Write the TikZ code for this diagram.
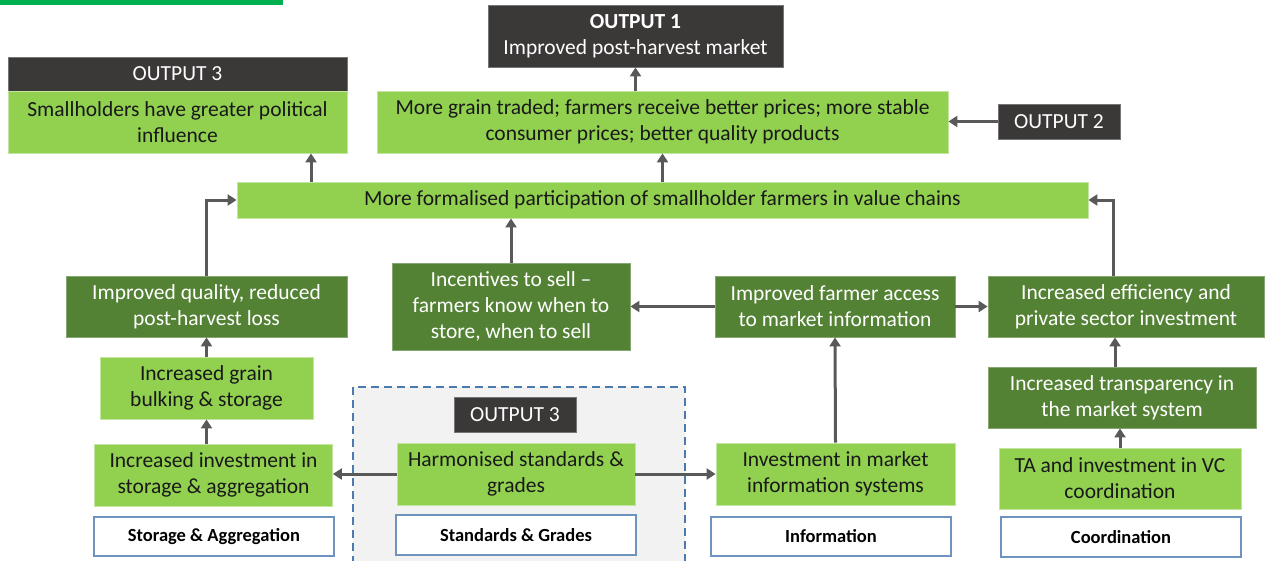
\documentclass[tikz,border=0pt]{standalone}
\usepackage{fontspec}
\setmainfont{Carlito}
\usetikzlibrary{arrows.meta,calc}
\definecolor{lgreen}{HTML}{92D050}
\definecolor{dgreen}{HTML}{548235}
\definecolor{dgray}{HTML}{3B3838}
\definecolor{arrgray}{HTML}{595959}
\definecolor{lblue}{HTML}{6F93C0}
\definecolor{dblue}{HTML}{4A7AAE}
\definecolor{topgreen}{HTML}{00B050}
\begin{document}
\begin{tikzpicture}[x=1pt,y=-1pt,
  every node/.style={inner sep=0pt,align=center,font=\fontsize{21.5}{26}\selectfont},
  light/.style={fill=lgreen,draw=lgreen!55!white,line width=0.8pt,text=black!90},
  dark/.style={fill=dgreen,draw=dgreen!70!white,line width=0.8pt,text=white},
  hdr/.style={fill=dgray,draw=dgray!70!white,line width=0.8pt,text=white},
  lab/.style={fill=white,draw=lblue,line width=1.4pt,font=\fontsize{18.5}{22}\selectfont\bfseries},
  arr/.style={draw=arrgray,line width=3pt,-{Triangle[length=9pt,width=11pt]}}]
\useasboundingbox (0,0) rectangle (1266,560);
\fill[topgreen] (0,0) rectangle (283,5);
\draw[fill=black!5,draw=dblue,line width=1.5pt,dash pattern=on 8pt off 5pt] (353,387) rectangle (685,575);

\node[hdr,minimum width=339,minimum height=34] (out3h) at (177.5,74) {OUTPUT 3};
\node[light,minimum width=339,minimum height=62] (smallh) at (177.5,122) {Smallholders have greater political\\influence};
\node[hdr,minimum width=295,minimum height=62] (out1) at (635.5,36) {\textbf{OUTPUT 1}\\Improved post-harvest market};
\node[light,minimum width=571,minimum height=62] (grain) at (662.5,122) {More grain traded; farmers receive better prices; more stable\\consumer prices; better quality products};
\node[hdr,minimum width=122,minimum height=35] (out2) at (1059,121.5) {OUTPUT 2};
\node[light,minimum width=851,minimum height=36] (formal) at (662.5,200) {More formalised participation of smallholder farmers in value chains};

\node[dark,minimum width=281,minimum height=61] (quality) at (206.5,306.5) {Improved quality, reduced\\post-harvest loss};
\node[light,minimum width=213,minimum height=62] (bulk) at (206.5,388) {Increased grain\\bulking \& storage};
\node[light,minimum width=238,minimum height=62] (invstor) at (213.5,475) {Increased investment in\\storage \& aggregation};
\node[lab,minimum width=240,minimum height=39] (storlab) at (214,536.5) {Storage \& Aggregation};

\node[dark,minimum width=238,minimum height=87] (incent) at (511,306.5) {Incentives to sell --\\farmers know when to\\store, when to sell};
\node[hdr,minimum width=122,minimum height=35] (out3b) at (515,414.5) {OUTPUT 3};
\node[light,minimum width=238,minimum height=62] (harm) at (516,474) {Harmonised standards \&\\grades};
\node[lab,minimum width=240,minimum height=40] (stdlab) at (516,535) {Standards \& Grades};

\node[dark,minimum width=240,minimum height=61] (access) at (835,306.5) {Improved farmer access\\to market information};
\node[light,minimum width=239,minimum height=62] (infsys) at (835.5,474) {Investment in market\\information systems};
\node[lab,minimum width=240,minimum height=39] (infolab) at (831,536.5) {Information};

\node[dark,minimum width=276,minimum height=61] (effic) at (1126,306.5) {Increased efficiency and\\private sector investment};
\node[dark,minimum width=268,minimum height=61] (transp) at (1122,397.5) {Increased transparency in\\the market system};
\node[light,minimum width=242,minimum height=61] (ta) at (1120,478.5) {TA and investment in VC\\coordination};
\node[lab,minimum width=240,minimum height=40] (coordlab) at (1121,537) {Coordination};

\coordinate (up1) at (311,0);
\coordinate (elb) at ($(effic.north)+(-13,0)$);
\coordinate (tup) at ($(transp.north)+(-7,0)$);
\draw[arr] (out1.south |- grain.north) -- (out1.south);
\draw[arr] (out2.west) -- (out2.west -| grain.east);
\draw[arr] (up1 |- formal.north) -- (up1 |- smallh.south);
\draw[arr] (formal.north) -- (grain.south);
\draw[arr] (incent.north) -- (incent.north |- formal.south);
\draw[arr] (quality.north) |- (formal.west);
\draw[arr] (elb) |- (formal.east);
\draw[arr] (bulk.north) -- (quality.south);
\draw[arr] (bulk.south |- invstor.north) -- (bulk.south);
\draw[arr] (harm.west) -- (harm.west -| invstor.east);
\draw[arr] (harm.east) -- (harm.east -| infsys.west);
\draw[arr] (access.west) -- (access.west -| incent.east);
\draw[arr] (access.east) -- (access.east -| effic.west);
\draw[arr] (infsys.north) -- (access.south);
\draw[arr] (ta.north) -- (ta.north |- transp.south);
\draw[arr] (tup) -- (tup |- effic.south);
\end{tikzpicture}
\end{document}
